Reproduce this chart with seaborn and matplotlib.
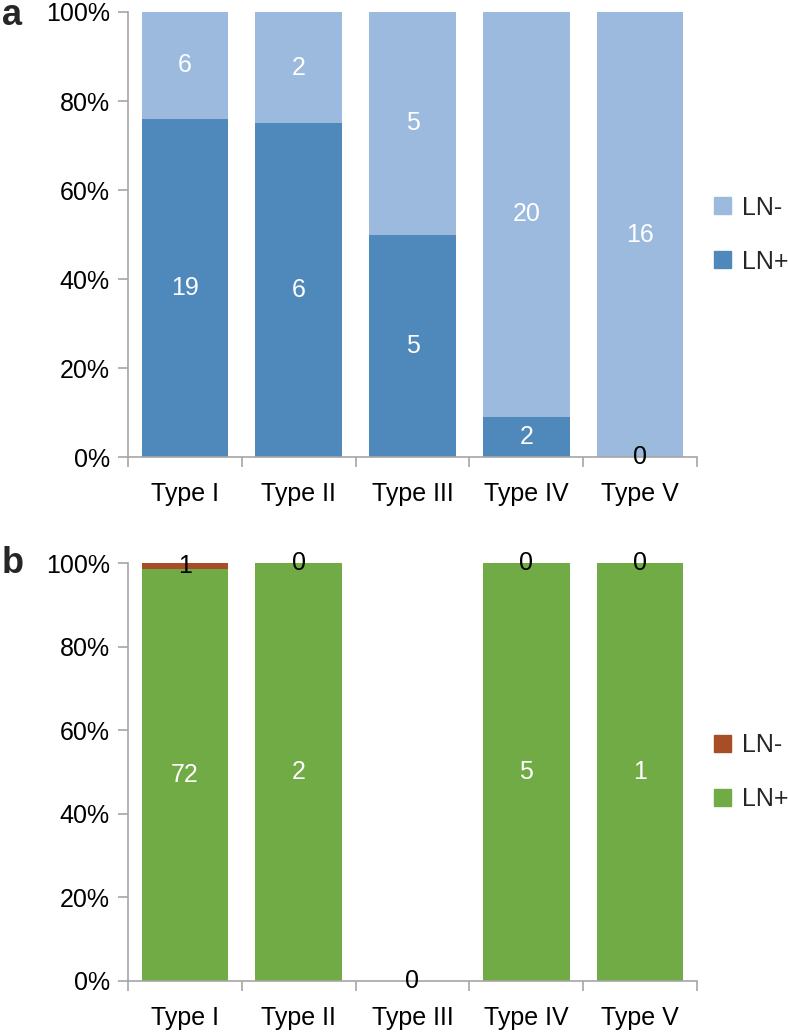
import numpy as np
import pandas as pd
import matplotlib
matplotlib.use("Agg")
import matplotlib.pyplot as plt
import seaborn as sns
from matplotlib.patches import Patch

types = ["Type I", "Type II", "Type III", "Type IV", "Type V"]

a_pos = [19, 6, 5, 2, 0]
a_neg = [6, 2, 5, 20, 16]
b_pos = [72, 2, 0, 5, 1]
b_neg = [1, 0, 0, 0, 0]

a_colors = {"LN-": "#9bbadd", "LN+": "#4f88ba"}
b_colors = {"LN-": "#a84e26", "LN+": "#70ab45"}

sns.set_theme(style="white")
plt.rcParams["font.family"] = ["Liberation Sans", "DejaVu Sans"]

fig = plt.figure(figsize=(7.88, 10.34), dpi=100)
grey = "#a6a6a6"
fs = 18


def panel(rect, pos, neg, colors, letter, letter_y):
    ax = fig.add_axes(rect)
    pos = np.array(pos, dtype=float)
    neg = np.array(neg, dtype=float)
    tot = pos + neg
    share = np.divide(pos, tot, out=np.zeros_like(pos), where=tot > 0) * 100
    full = np.where(tot > 0, 100.0, 0.0)
    df = pd.DataFrame({"type": types, "full": full, "share": share})

    # whole bar in LN- colour, LN+ share drawn over it
    sns.barplot(data=df, x="type", y="full", color=colors["LN-"], width=0.76,
                saturation=1, linewidth=0, ax=ax)
    sns.barplot(data=df, x="type", y="share", color=colors["LN+"], width=0.76,
                saturation=1, linewidth=0, ax=ax)

    for i in range(len(types)):
        if tot[i] == 0:
            segs = [(0, 0, 0)]
        else:
            segs = [(pos[i], 0, share[i]), (neg[i], share[i], full[i])]
        for val, lo, hi in segs:
            mid = (lo + hi) / 2
            col = "white" if (hi - lo) > 5 else "black"
            ax.text(i, mid, f"{int(val)}", ha="center", va="center",
                    fontsize=fs, color=col)

    ax.set_xlim(-0.5, 4.5)
    ax.set_ylim(0, 100)
    ax.set_yticks(range(0, 101, 20))
    ax.set_yticklabels([f"{v}%" for v in range(0, 101, 20)], fontsize=fs,
                       color="black")
    ax.set_xticks(range(5))
    ax.set_xticklabels(types, fontsize=fs, color="black")
    ax.set_xticks(np.arange(-0.5, 5, 1), minor=True)
    ax.tick_params(axis="x", which="major", length=0, pad=18)
    ax.tick_params(axis="x", which="minor", length=7, width=1.2, color=grey,
                   direction="out", bottom=True)
    ax.tick_params(axis="y", length=7, width=1.2, color=grey,
                   direction="out", left=True, pad=6)
    ax.set_xlabel("")
    ax.set_ylabel("")
    sns.despine(ax=ax)
    for s in ("left", "bottom"):
        ax.spines[s].set_color(grey)
        ax.spines[s].set_linewidth(1.2)

    handles = [Patch(color=colors["LN-"], label="LN-"),
               Patch(color=colors["LN+"], label="LN+")]
    ax.legend(handles=handles, loc="center left", bbox_to_anchor=(1.0, 0.5),
              frameon=False, fontsize=fs, handlelength=0.65, handleheight=0.65,
              labelspacing=1.2, handletextpad=0.45, borderaxespad=0.3)
    fig.text(0.002, letter_y, letter, fontsize=26, fontweight="bold",
             va="baseline", ha="left")
    return ax


panel([0.1624, 0.558, 0.7221, 0.4304], a_pos, a_neg, a_colors, "a", 0.9758)
panel([0.1624, 0.0513, 0.7221, 0.4042], b_pos, b_neg, b_colors, "b", 0.4458)

fig.savefig("out.png", dpi=100)
